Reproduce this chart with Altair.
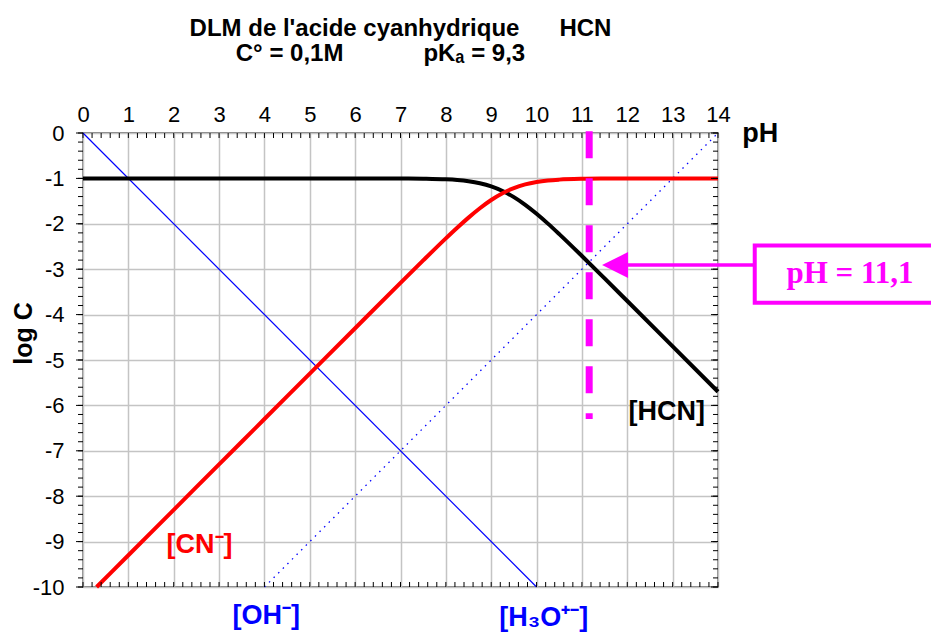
import altair as alt
import pandas as pd

# ---------------- data ----------------
ph_hcn = [0, 1, 2, 3, 4, 5, 6, 7, 7.5, 8, 8.25, 8.5, 8.75, 9, 9.25, 9.5, 9.75, 10, 10.25, 10.5, 11, 11.5, 12, 13, 14]
log_hcn = [-1.0, -1.0, -1.0, -1.0, -1.0, -1.0, -1.0, -1.002, -1.007, -1.021, -1.037, -1.064, -1.108, -1.176,
           -1.277, -1.413, -1.582, -1.779, -1.996, -2.227, -2.709, -3.203, -3.701, -4.700, -5.700]
ph_cn = [0.3, 1, 2, 3, 4, 5, 6, 7, 7.5, 8, 8.25, 8.5, 8.75, 9, 9.25, 9.5, 9.75, 10, 10.25, 10.5, 11, 11.5, 12, 13, 14]
log_cn = [-10.0, -9.3, -8.3, -7.3, -6.3, -5.3, -4.3, -3.302, -2.807, -2.321, -2.087, -1.864, -1.658, -1.476,
          -1.327, -1.213, -1.132, -1.079, -1.046, -1.027, -1.009, -1.003, -1.001, -1.0, -1.0]
ph_h3o = [0, 10]
log_h3o = [0, -10]
ph_oh = [4, 14]
log_oh = [-10, 0]

ph_eq = 11.16
eq_top, eq_bottom = 0.04, -6.3
arrow_y = -2.91
arrow_x = [12.0, 14.81]
arrow_tip_x = 11.73
box_x = [14.81, 19.5]
box_y = [-2.48, -3.74]

x_ticks_major = list(range(0, 15))
y_ticks_major = list(range(-10, 1))
x_ticks_minor = [round(i * 0.2, 1) for i in range(71)]
y_ticks_minor = [round(-10 + i * 0.2, 1) for i in range(51)]

label_text = ["[HCN]", "[CN⁻]", "[OH⁻]", "[H₃O⁺⁻]", "pH"]
label_x = [12.87, 2.57, 4.04, 10.16, 14.93]
label_y = [-6.14, -9.08, -10.63, -10.69, -0.02]
label_color = ["#000000", "#ff0000", "#0000ff", "#0000ff", "#000000"]

NB = "\u00a0"
title_lines = ["DLM de l'acide cyanhydrique" + NB * 6 + "HCN",
               "C° = 0,1M" + NB * 12 + "pKₐ = 9,3" + NB * 6 + "\u200b"]

# ---------------- chart ----------------
W, H = 635, 454
FONT = "Liberation Sans"
MAG = "#ff00ff"

xs = alt.Scale(domain=[0, 14], nice=False, zero=False)
ys = alt.Scale(domain=[-10, 0], nice=False, zero=False)

x_axis = alt.Axis(orient="top", values=x_ticks_major, grid=True, gridColor="#c4c4c4", gridWidth=1.5,
                  ticks=False, domain=False, labelFontSize=22, labelFont=FONT, labelColor="black",
                  labelPadding=7, labelFlush=False, labelOverlap=False, title=None,
                  labelExpr="'' + datum.value")
y_axis = alt.Axis(orient="left", values=y_ticks_major, grid=True, gridColor="#c4c4c4", gridWidth=1.5,
                  ticks=False, domain=False, labelFontSize=22, labelFont=FONT, labelColor="black",
                  labelPadding=19, labelFlush=False, labelOverlap=False,
                  labelExpr="'' + datum.value",
                  title="log C", titleFont=FONT, titleFontSize=25, titleFontWeight="bold", titleColor="black",
                  titleAngle=270, titleX=-60, titleY=200, titleAlign="center", titleBaseline="middle")


def X(field="x"):
    return alt.X(f"{field}:Q", scale=xs, axis=x_axis, title=None)


def Y(field="y"):
    return alt.Y(f"{field}:Q", scale=ys, axis=y_axis, title=None)


df_hcn = pd.DataFrame({"x": ph_hcn, "y": log_hcn})
df_cn = pd.DataFrame({"x": ph_cn, "y": log_cn})
df_h3o = pd.DataFrame({"x": ph_h3o, "y": log_h3o})
df_oh = pd.DataFrame({"x": ph_oh, "y": log_oh})

xminor = pd.DataFrame({"x": x_ticks_minor})
yminor = pd.DataFrame({"y": y_ticks_minor})
ymajor = pd.DataFrame({"y": y_ticks_major})

top_ticks = alt.Chart(xminor).mark_rule(color="black", strokeWidth=1).encode(
    x=X(), y=alt.value(0), y2=alt.value(5))
bottom_ticks = alt.Chart(xminor).mark_rule(color="black", strokeWidth=1).encode(
    x=X(), y=alt.value(H), y2=alt.value(H - 5))
left_ticks = alt.Chart(yminor).mark_rule(color="black", strokeWidth=1).encode(
    y=Y(), x=alt.value(-5), x2=alt.value(0))
left_major = alt.Chart(ymajor).mark_rule(color="black", strokeWidth=1).encode(
    y=Y(), x=alt.value(-7), x2=alt.value(0))
right_ticks = alt.Chart(yminor).mark_rule(color="black", strokeWidth=1).encode(
    y=Y(), x=alt.value(W), x2=alt.value(W - 5))
right_major = alt.Chart(ymajor).mark_rule(color="black", strokeWidth=1).encode(
    y=Y(), x=alt.value(W), x2=alt.value(W - 7))

h3o = alt.Chart(df_h3o).mark_line(color="#0000ff", strokeWidth=1.2).encode(x=X(), y=Y())
oh = alt.Chart(df_oh).mark_line(color="#0000ff", strokeWidth=1.3, strokeDash=[1.5, 5]).encode(x=X(), y=Y())
hcn = alt.Chart(df_hcn).mark_line(color="black", strokeWidth=4, interpolate="monotone").encode(x=X(), y=Y())
cn = alt.Chart(df_cn).mark_line(color="#ff0000", strokeWidth=4, interpolate="monotone").encode(x=X(), y=Y())

eq_line = alt.Chart(pd.DataFrame({"x": [ph_eq], "y": [eq_top], "y2": [eq_bottom]})).mark_rule(
    color=MAG, strokeWidth=7, strokeDash=[27, 20], strokeCap="butt").encode(x=X(), y=Y(), y2="y2:Q")

arrow_line = alt.Chart(pd.DataFrame({"x": [arrow_x[0]], "x2": [arrow_x[1]], "y": [arrow_y]})).mark_rule(
    color=MAG, strokeWidth=3.5).encode(x=X(), x2="x2:Q", y=Y())
arrow_head = alt.Chart(pd.DataFrame({"x": [arrow_tip_x], "y": [arrow_y]})).mark_point(
    shape="M -1 0 L 1 -1 L 1 1 Z", filled=True, color=MAG, opacity=1, size=676).encode(x=X(), y=Y())

box = alt.Chart(pd.DataFrame({"x": [box_x[0]], "x2": [box_x[1]], "y": [box_y[0]], "y2": [box_y[1]]})).mark_rect(
    fill="white", stroke=MAG, strokeWidth=4).encode(x=X(), x2="x2:Q", y=Y(), y2="y2:Q")
box_text = alt.Chart(pd.DataFrame({"x": [16.91], "y": [-3.11], "t": ["pH = 11,1"]})).mark_text(
    font="Liberation Serif", fontWeight="bold", fontSize=31, color=MAG, align="center", baseline="middle").encode(
    x=X(), y=Y(), text="t:N")

df_lab = pd.DataFrame({"x": label_x, "y": label_y, "t": label_text, "c": label_color})
labels = alt.Chart(df_lab).mark_text(font=FONT, fontWeight="bold", fontSize=27, align="center",
                                     baseline="middle").encode(
    x=X(), y=Y(), text="t:N", color=alt.Color("c:N", scale=None))

chart = alt.layer(
    h3o, oh, hcn, cn,
    top_ticks, bottom_ticks, left_ticks, left_major, right_ticks, right_major,
    eq_line, arrow_line, arrow_head, box, box_text, labels
).properties(
    width=W, height=H,
    title=alt.Title(text=title_lines,
                    font=FONT, fontSize=24, fontWeight="bold", color="black", anchor="middle",
                    lineHeight=25, offset=37),
    padding={"left": 75, "top": 125, "right": 213, "bottom": 46},
    autosize=alt.AutoSizeParams(type="none"),
).configure_view(stroke="black", strokeWidth=1.3)

chart.save("out.html", embed_options={"renderer": "svg", "actions": False})
